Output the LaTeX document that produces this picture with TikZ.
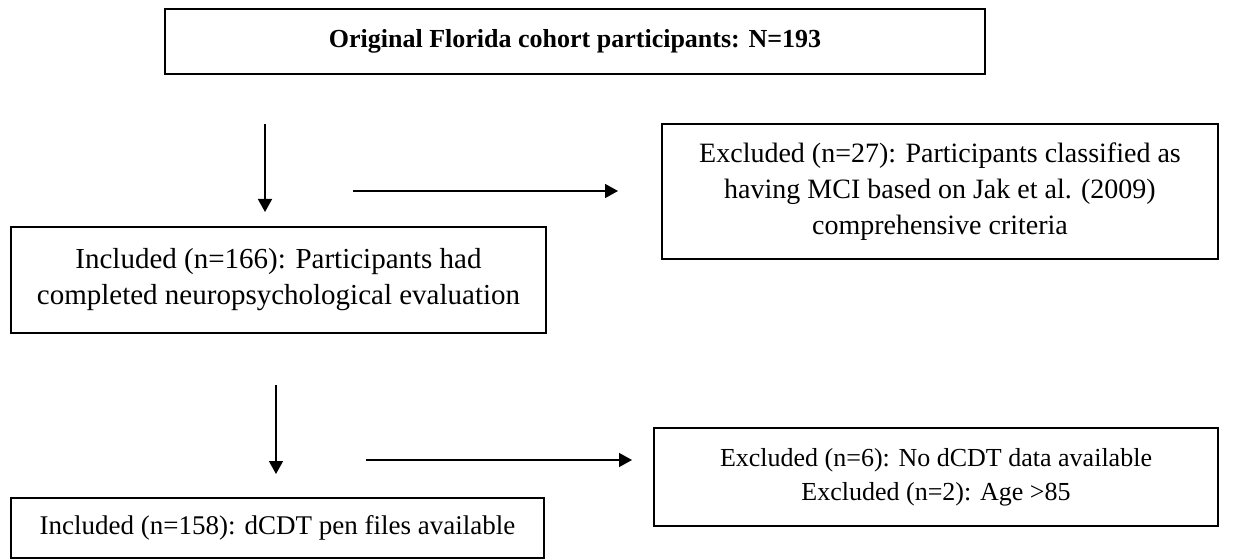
\documentclass[tikz,border=0pt]{standalone}
\usepackage{fontspec}
\setmainfont{Liberation Serif}
\usetikzlibrary{arrows.meta}
\begin{document}
\begin{tikzpicture}[>={Triangle[length=6.5pt,width=7pt]},x=0.5pt,y=-0.5pt,
	box/.style={draw,line width=1pt,inner sep=0pt,align=center},
	big/.style={font=\fontsize{14}{18}\selectfont},
	small/.style={font=\fontsize{13}{17}\selectfont},
	flow/.style={->,line width=0.8pt}]
	\useasboundingbox (0,0) rectangle (1235,560);
	% boxes
	\node[box,minimum width=410pt,minimum height=32.5pt,font=\fontsize{13}{16}\selectfont\bfseries] (orig) at (575,41.5) {Original Florida cohort participants: N=193};
	\node[box,big,font=\fontsize{14.5}{18}\selectfont,minimum width=267.5pt,minimum height=53pt] (inca) at (278.5,280) {Included (n=166): Participants had\\completed neuropsychological evaluation};
	\node[box,big,minimum width=278pt,minimum height=67.5pt] (exca) at (940,191.5) {Excluded (n=27): Participants classified as\\having MCI based on Jak et al. (2009)\\comprehensive criteria};
	\node[box,small,font=\fontsize{13.5}{17}\selectfont,minimum width=266.5pt,minimum height=30pt] (incb) at (277.5,528) {Included (n=158): dCDT pen files available};
	\node[box,small,minimum width=282pt,minimum height=49pt] (excb) at (936,477) {Excluded (n=6): No dCDT data available\\Excluded (n=2): Age >85};
	% arrows
	\coordinate (d1) at (265,124);
	\coordinate (d1e) at (265,212);
	\coordinate (r1) at (353,191);
	\coordinate (r1e) at (618,191);
	\coordinate (d2) at (276,385);
	\coordinate (d2e) at (276,474);
	\coordinate (r2) at (366,460);
	\coordinate (r2e) at (632,460);
	\draw[flow] (d1) -- (d1e);
	\draw[flow] (r1) -- (r1e);
	\draw[flow] (d2) -- (d2e);
	\draw[flow] (r2) -- (r2e);
\end{tikzpicture}
\end{document}
